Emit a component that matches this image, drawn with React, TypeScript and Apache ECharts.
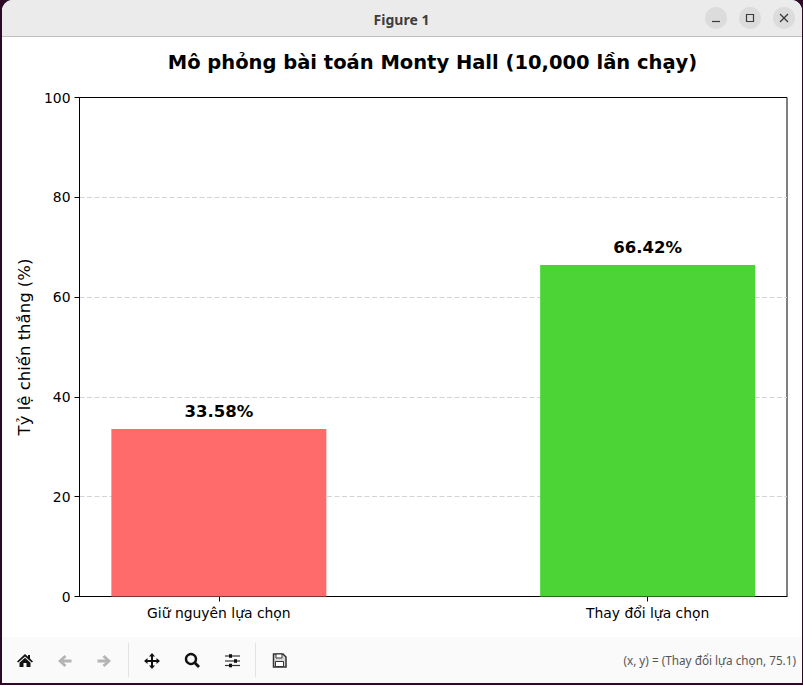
import React, { useEffect, useRef } from "react";
import * as echarts from "echarts";

const categories = ["Giữ nguyên lựa chọn", "Thay đổi lựa chọn"];
const positions = [0, 1];
const winRates = [33.58, 66.42];
const barColors = ["#ff6b6b", "#4cd437"];
const yTicks = [0, 20, 40, 60, 80, 100];

const FONT = "'DejaVu Sans', sans-serif";
const UI_FONT = "'Noto Sans', 'Open Sans', sans-serif";

const SHAPES: Record<string, string> = {
  tbHome: "M0 -7 L3 -4.2 L3 -6 L5 -6 L5 -2.4 L8 0.5 L6.8 1.6 L0 -4.6 L-6.8 1.6 L-8 0.5 Z M0 -3.2 L5.5 1.8 L5.5 6 L1.5 6 L1.5 2 L-1.5 2 L-1.5 6 L-5.5 6 L-5.5 1.8 Z",
  tbArrow: "M-7 0 L-0.5 -6 L1.5 -4 L-1.5 -1.6 L6.5 -1.6 L6.5 1.6 L-1.5 1.6 L1.5 4 L-0.5 6 Z",
  tbMove: "M-1 -1 L-1 -4.5 L-3 -4.5 L0 -8 L3 -4.5 L1 -4.5 L1 -1 L4.5 -1 L4.5 -3 L8 0 L4.5 3 L4.5 1 L1 1 L1 4.5 L3 4.5 L0 8 L-3 4.5 L-1 4.5 L-1 1 L-4.5 1 L-4.5 3 L-8 0 L-4.5 -3 L-4.5 -1 Z",
  tbSave: "M-6 -6.5 L3.5 -6.5 L6.5 -3.5 L6.5 6.5 L-6 6.5 Z",
};
Object.entries(SHAPES).forEach(([name, d]) => {
  echarts.graphic.registerShape(name, (echarts.graphic as any).extendPath(d, {}));
});

const Z = -10;
function chrome(): any[] {
  const dark = "#333333";
  const els: any[] = [
    { type: "rect", z: Z, shape: { x: 2, y: 0, width: 800, height: 683, r: [11, 11, 0, 0] }, style: { fill: "#ffffff" } },
    { type: "rect", z: Z, shape: { x: 2, y: 0, width: 800, height: 36, r: [11, 11, 0, 0] }, style: { fill: "#ebebeb" } },
    { type: "rect", z: Z, shape: { x: 2, y: 36, width: 800, height: 1 }, style: { fill: "#bfbfbf" } },
    { type: "rect", z: Z, shape: { x: 2, y: 637, width: 800, height: 46 }, style: { fill: "#fafafa" } },
    { type: "text", z: Z, x: 401.5, y: 19, style: { text: "Figure 1", font: `bold 14px ${UI_FONT}`, fill: "#3d3d3d", align: "center", verticalAlign: "middle" } },
  ];
  [716, 750, 784].forEach((cx) => els.push({ type: "circle", z: Z, shape: { cx, cy: 18, r: 11 }, style: { fill: "#dcdcdc" } }));
  const line = (x1: number, y1: number, x2: number, y2: number, stroke: string, lineWidth = 1) =>
    ({ type: "line", z: Z, shape: { x1, y1, x2, y2 }, style: { stroke, lineWidth } });
  els.push(line(712, 21.5, 720, 21.5, "#3a3a3a", 1.2));
  els.push({ type: "rect", z: Z, shape: { x: 746.5, y: 14.5, width: 7, height: 7 }, style: { fill: "none", stroke: "#3a3a3a", lineWidth: 1.2 } });
  els.push(line(780, 14, 788, 22, "#3a3a3a", 1.2));
  els.push(line(788, 14, 780, 22, "#3a3a3a", 1.2));
  els.push(line(128.5, 643, 128.5, 677, "#e2e2e2"));
  els.push(line(255.5, 643, 255.5, 677, "#e2e2e2"));
  els.push({ type: "tbHome", z: Z, x: 25, y: 661, style: { fill: "#111111" } });
  els.push({ type: "tbArrow", z: Z, x: 65, y: 661, style: { fill: "#b4b4b4" } });
  els.push({ type: "tbArrow", z: Z, x: 104, y: 661, scaleX: -1, style: { fill: "#b4b4b4" } });
  els.push({ type: "tbMove", z: Z, x: 152, y: 661, style: { fill: "#111111" } });
  els.push({ type: "circle", z: Z, shape: { cx: 191, cy: 659, r: 5 }, style: { fill: "none", stroke: "#111111", lineWidth: 2.4 } });
  els.push(line(195, 663, 199, 667, "#111111", 2.8));
  [656, 661, 665.5].forEach((y, i) => {
    els.push(line(225, y, 240, y, dark, 1.2));
    els.push({ type: "rect", z: Z, shape: { x: (i === 1 ? 234 : 229), y: y - 1.8, width: 3, height: 3.6 }, style: { fill: "#111111" } });
  });
  els.push({ type: "tbSave", z: Z, x: 279.5, y: 660.5, style: { fill: "#d8d8d8", stroke: dark, lineWidth: 1.5 } });
  els.push({ type: "rect", z: Z, shape: { x: 276, y: 654, width: 6, height: 4 }, style: { fill: "#ffffff", stroke: dark, lineWidth: 1 } });
  els.push({ type: "rect", z: Z, shape: { x: 275.5, y: 661.5, width: 8, height: 5 }, style: { fill: "#ffffff", stroke: dark, lineWidth: 1 } });
  els.push({ type: "text", z: Z, x: 796, y: 660, style: { text: "(x, y) = (Thay đổi lựa chọn, 75.1)", font: `11.75px ${UI_FONT}`, fill: "#555555", align: "right", verticalAlign: "middle" } });
  return els;
}

export default function App() {
  const ref = useRef<HTMLDivElement>(null);
  useEffect(() => {
    document.body.style.margin = "0";
    const chart = echarts.init(ref.current!, undefined, { renderer: "svg" });
    chart.setOption({
      animation: false,
      backgroundColor: "#2c0a25",
      graphic: { z: Z, elements: chrome() },
      title: {
        text: "Mô phỏng bài toán Monty Hall (10,000 lần chạy)",
        left: 427.5,
        top: 47,
        textAlign: "center",
        textStyle: { fontFamily: FONT, fontSize: 19.5, fontWeight: "bold", color: "#000" },
      },
      grid: { left: 79.5, top: 97.5, width: 707.5, height: 499, show: true, borderColor: "#000", borderWidth: 1, backgroundColor: "transparent" },
      xAxis: {
        type: "value",
        min: -0.325,
        max: 1.325,
        splitLine: { show: false },
        axisLine: { show: true, onZero: false, lineStyle: { color: "#000", width: 1 } },
        axisTick: { show: true, length: 5, customValues: positions, lineStyle: { color: "#000" } },
        axisLabel: {
          customValues: positions,
          margin: 9,
          fontFamily: FONT,
          fontSize: 13.9,
          color: "#000",
          formatter: (v: number) => categories[Math.round(v)],
        },
      },
      yAxis: {
        type: "value",
        min: yTicks[0],
        max: yTicks[yTicks.length - 1],
        interval: 20,
        name: "Tỷ lệ chiến thắng (%)",
        nameLocation: "middle",
        nameGap: 43,
        nameTextStyle: { fontFamily: FONT, fontSize: 16.5, color: "#000" },
        axisLine: { show: true, onZero: false, lineStyle: { color: "#000", width: 1 } },
        axisTick: { show: true, length: 5, lineStyle: { color: "#000" } },
        axisLabel: { margin: 9, fontFamily: FONT, fontSize: 13.9, color: "#000" },
        splitLine: { show: true, showMinLine: false, showMaxLine: false, lineStyle: { color: "#d3d3d3", type: [5, 2.5], width: 1 } },
      },
      series: [
        {
          type: "bar",
          barWidth: 215,
          data: positions.map((p, i) => ({ value: [p, winRates[i]], itemStyle: { color: barColors[i] } })),
          label: {
            show: true,
            position: "top",
            distance: 9,
            fontFamily: FONT,
            fontSize: 16.5,
            fontWeight: "bold",
            color: "#000",
            formatter: (p: any) => `${p.value[1].toFixed(2)}%`,
          },
        },
      ],
    });
    return () => chart.dispose();
  }, []);
  return <div ref={ref} style={{ width: 803, height: 685 }} />;
}
